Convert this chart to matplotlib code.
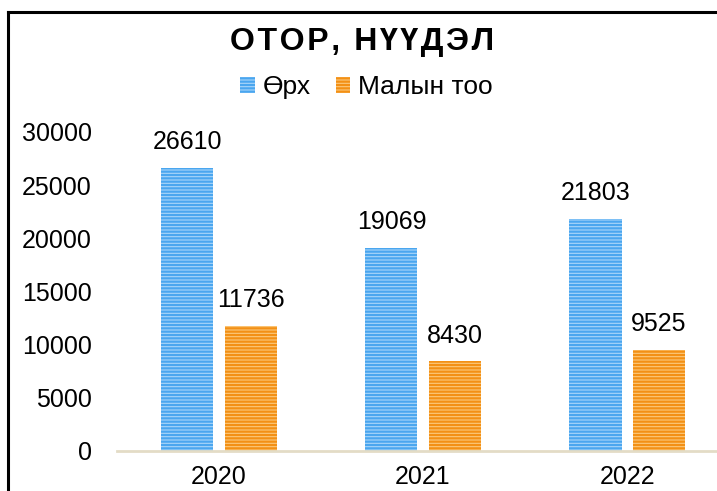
import matplotlib.pyplot as plt
import numpy as np

plt.rcParams['font.family'] = ['Liberation Sans', 'DejaVu Sans']
plt.rcParams['hatch.linewidth'] = 1.6

years = ['2020', '2021', '2022']
households = [26610, 19069, 21803]
livestock = [11736, 8430, 9525]
legend_labels = ['Өрх', 'Малын тоо']
title = 'ОТОР, НҮҮДЭЛ'

fig = plt.figure(figsize=(7.17, 4.91), dpi=100)
ax = fig.add_axes([0.163, 0.0815, 0.854, 0.65])

x = np.arange(len(years))
w = 0.255
off = 0.155

b1 = ax.bar(x - off, households, w, color='#a9d6fa', edgecolor='#4aa6ef',
            hatch='-----', linewidth=0, label=legend_labels[0])
b2 = ax.bar(x + off, livestock, w, color='#fcc97c', edgecolor='#f39015',
            hatch='-----', linewidth=0, label=legend_labels[1])

for bars, vals in [(b1, households), (b2, livestock)]:
    for r, v in zip(bars, vals):
        ax.annotate(str(v), (r.get_x() + r.get_width() / 2, v),
                    xytext=(0, 18.5), textcoords='offset points',
                    ha='center', va='center', fontsize=18)

ax.set_xlim(-0.5, 2.5)
ax.set_ylim(0, 30000)
ax.set_yticks(range(0, 30001, 5000))
ax.set_xticks(x)
ax.set_xticklabels(years)
ax.tick_params(axis='y', length=0, pad=18, labelsize=18)
ax.tick_params(axis='x', length=0, pad=10, labelsize=18)
for s in ['top', 'right', 'left']:
    ax.spines[s].set_visible(False)
ax.spines['bottom'].set_color('#e3dcc6')
ax.spines['bottom'].set_linewidth(2)

# wide letter spacing in the title
fig.text(0.505, 0.915, '\u200a'.join(title), ha='center', va='center',
         fontsize=23, fontweight='bold')
fig.legend(loc='center', bbox_to_anchor=(0.511, 0.822), ncol=2, frameon=False,
           fontsize=19, handlelength=0.55, handleheight=0.55,
           handletextpad=0.3, columnspacing=0.95)

# outer frame
fig.add_artist(plt.Line2D([0.0105, 0.0105], [0, 0.976], color='black', lw=2.2,
                          transform=fig.transFigure))
fig.add_artist(plt.Line2D([0.0105, 1.0], [0.976, 0.976], color='black', lw=2.2,
                          transform=fig.transFigure))

fig.savefig('out.png', dpi=100)
